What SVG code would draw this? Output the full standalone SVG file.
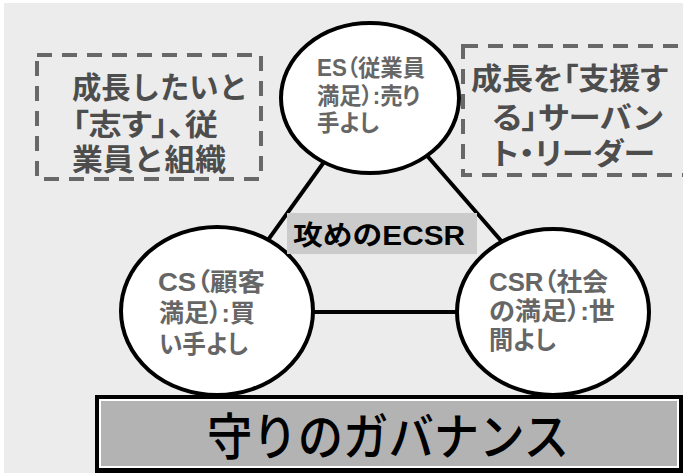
<svg xmlns="http://www.w3.org/2000/svg" width="683" height="473" viewBox="0 0 683 473">
<style>
.t{font-family:"Liberation Sans","Noto Sans CJK JP",sans-serif;}
.ct{font-size:23px;fill:#666666;font-weight:bold;font-feature-settings:"palt";}
.bt{font-size:30px;fill:#4d4d4d;font-weight:bold;}
.palt{font-feature-settings:"palt";}
.circ{fill:#ffffff;stroke:#000000;stroke-width:4;}
.dash{fill:none;stroke:#686868;stroke-width:4;stroke-dasharray:15 10;}
.conn{stroke:#000000;stroke-width:4;fill:none;}
</style>
<rect x="0" y="0" width="683" height="473" fill="#ffffff"/>
<rect x="4" y="3" width="679" height="470" fill="#ececec"/>
<g id="connectors">
<line class="conn" x1="370" y1="98" x2="217" y2="311"/>
<line class="conn" x1="376" y1="97" x2="563" y2="312"/>
<line class="conn" x1="217" y1="312" x2="553" y2="312"/>
</g>
<g id="box-left">
<rect class="dash" x="37" y="55" width="224" height="124"/>
<text class="t bt" x="72" y="98" textLength="176" lengthAdjust="spacingAndGlyphs">成長したいと</text>
<text class="t bt palt" x="72" y="135" textLength="146" lengthAdjust="spacingAndGlyphs">「志す」、従</text>
<text class="t bt" x="72" y="170" textLength="154" lengthAdjust="spacingAndGlyphs">業員と組織</text>
</g>
<g id="box-right">
<rect class="dash" x="463" y="46" width="240" height="129"/>
<text class="t bt palt" x="471" y="89" textLength="197" lengthAdjust="spacingAndGlyphs">成長を「支援す</text>
<text class="t bt palt" x="492" y="128" textLength="171" lengthAdjust="spacingAndGlyphs">る」サーバン</text>
<text class="t bt palt" x="492" y="164" textLength="163" lengthAdjust="spacingAndGlyphs">ト・リーダー</text>
</g>
<g id="node-es">
<ellipse class="circ" cx="370" cy="98" rx="89" ry="75"/>
<text class="t ct" x="317" y="76" textLength="108" lengthAdjust="spacingAndGlyphs">ES（従業員</text>
<text class="t ct" x="317" y="104" textLength="103" lengthAdjust="spacingAndGlyphs">満足）:売り</text>
<text class="t ct" x="317" y="131" textLength="62" lengthAdjust="spacingAndGlyphs">手よし</text>
</g>
<g id="node-cs">
<ellipse class="circ" cx="217" cy="311" rx="96" ry="84"/>
<text class="t ct" style="font-size:25px" x="158" y="291" textLength="107" lengthAdjust="spacingAndGlyphs">CS（顧客</text>
<text class="t ct" style="font-size:25px" x="159" y="322" textLength="96" lengthAdjust="spacingAndGlyphs">満足）:買</text>
<text class="t ct" style="font-size:25px" x="159" y="353" textLength="89" lengthAdjust="spacingAndGlyphs">い手よし</text>
</g>
<g id="node-csr">
<ellipse class="circ" cx="553" cy="312" rx="96" ry="83"/>
<text class="t ct" style="font-size:25px" x="489" y="291" textLength="119" lengthAdjust="spacingAndGlyphs">CSR（社会</text>
<text class="t ct" style="font-size:25px" x="489" y="320" textLength="126" lengthAdjust="spacingAndGlyphs">の満足）:世</text>
<text class="t ct" style="font-size:25px" x="489" y="349" textLength="67" lengthAdjust="spacingAndGlyphs">間よし</text>
</g>
<g id="label-ecsr">
<rect x="287" y="213" width="190" height="41" fill="#cbcbcb"/>
<text class="t" x="293" y="245" font-size="27" font-weight="bold" fill="#000000" textLength="172" lengthAdjust="spacingAndGlyphs">攻めのECSR</text>
</g>
<g id="node-governance">
<rect x="95" y="395" width="588" height="78" fill="#000000"/>
<rect x="99" y="399" width="580" height="69" fill="#ffffff"/>
<rect x="101" y="401" width="576" height="65" fill="#b3b3b3"/>
<text class="t" x="207" y="455" font-size="50" font-weight="500" fill="#000000" textLength="362" lengthAdjust="spacingAndGlyphs">守りのガバナンス</text>
</g>
</svg>
